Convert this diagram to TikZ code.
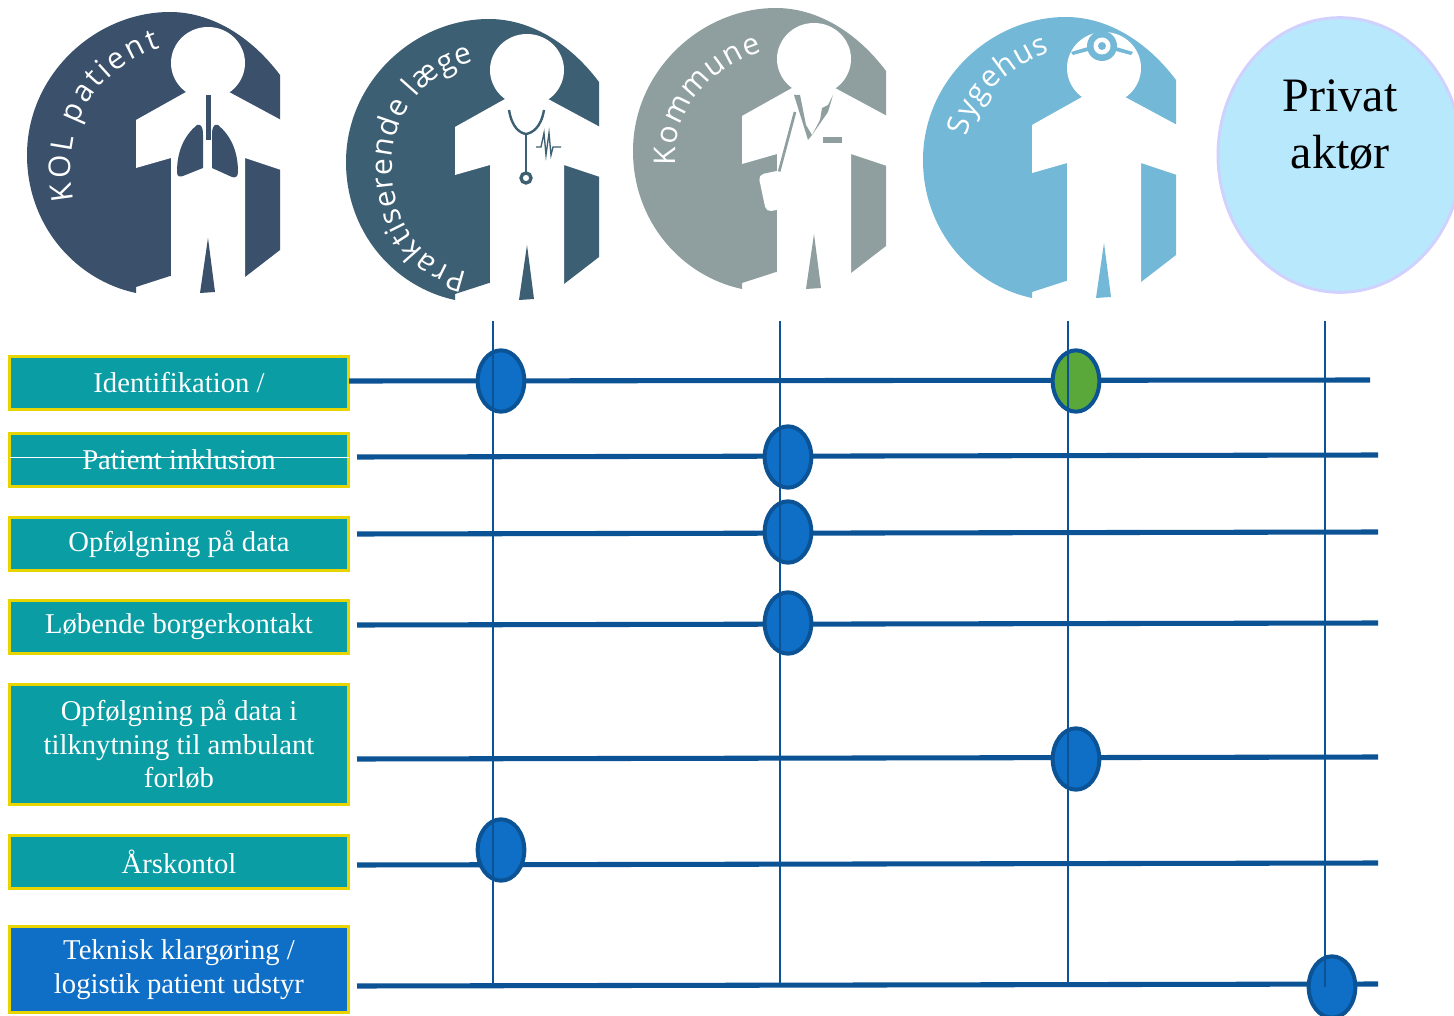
\documentclass[tikz,border=0pt]{standalone}
\usepackage{fontspec}
\setmainfont{Liberation Serif}
\newfontfamily\iconfont{Open Sans}
\usetikzlibrary{shapes.geometric,decorations.text}
\definecolor{kolc}{HTML}{3A506B}
\definecolor{laegec}{HTML}{3D5F73}
\definecolor{komc}{HTML}{8F9FA0}
\definecolor{sygc}{HTML}{74B8D7}
\definecolor{teal}{HTML}{0A9DA4}
\definecolor{yel}{HTML}{E8D500}
\definecolor{bluef}{HTML}{0F6FC6}
\definecolor{blues}{HTML}{0B5394}
\definecolor{greenf}{HTML}{5BA83A}
\tikzset{
  x=0.75pt,y=-0.75pt,
  tealbox/.style={draw=yel,line width=2.2pt,fill=teal,text=white,minimum width=254pt,align=center,inner sep=0pt,
     font=\fontsize{21.5pt}{25.2pt}\selectfont},
  bluebox/.style={tealbox,fill=bluef},
  oval/.style={ellipse,draw=blues,line width=3pt,fill=bluef,minimum width=35pt,minimum height=46pt,inner sep=0pt},
  ovalg/.style={oval,fill=greenf},
  hline/.style={draw=blues,line width=3.8pt},
  vline/.style={draw=blues,line width=2.2pt},
  curvetext/.style={decorate,decoration={text along path,text align={fit to path},
     text={|\fontsize{#1}{#1}\selectfont\iconfont\color{white}|}}},
}
% dx, dy, colour : disc with the white figure cut out
\newcommand{\personicon}[3]{%
 \begin{scope}[shift={(#1,#2)}]
  \fill[#3] (280,75) .. controls (250,35) and (210,12) .. (170,12)
    .. controls (95,12) and (27,75) .. (27,155)
    .. controls (27,225) and (75,280) .. (136,293)
    -- (136,287) -- (170,276) -- (245,277) -- (280,250) -- cycle;
  \fill[white] (208,63) circle [x radius=37,y radius=36];
  \fill[white] (186,92) -- (136,120) -- (136,168) -- (171,158) -- (171,305) -- (245,305) -- (245,158) -- (281,170) -- (281,120) -- (229,92) -- cycle;
  \fill[#3] (208,238) -- (200,293) -- (215,292) -- cycle;
 \end{scope}}
\newcommand{\curved}[3]{% size, text, path
 \path[decorate,decoration={text along path,text align={fit to path},
   text={|\fontsize{#1}{#1}\selectfont\iconfont\color{white}|#2}}] #3;}
\begin{document}
\begin{tikzpicture}
\clip (0,0) rectangle (1454,1016);
\fill[white] (0,0) rectangle (1454,1016);

% ---------- icon 1
\personicon{0}{0}{kolc}
\fill[kolc] (205.5,95) -- (210.5,95) -- (210.5,140) -- (205.5,140) -- cycle;
\fill[kolc] (197,125) .. controls (185,135) and (177,150) .. (177,172) .. controls (177,177) and (180,177) .. (183,176) -- (203,168) -- (203,135) .. controls (203,125) and (200,124) .. (197,125) -- cycle;
\fill[kolc] (218,125) .. controls (230,135) and (238,150) .. (238,172) .. controls (238,177) and (235,178) .. (232,177) -- (212,168) -- (212,135) .. controls (212,125) and (215,124) .. (218,125) -- cycle;
\curved{22.5pt}{KOL patient}{(74,200) .. controls (60,125) and (95,70) .. (160,48)}

% ---------- icon 2
\personicon{319}{7}{laegec}
\draw[laegec,line width=1.8pt] (509,110) .. controls (512,128) and (520,133) .. (526,134) .. controls (532,133) and (541,128) .. (544,110);
\draw[laegec,line width=1.8pt] (526,134) -- (526,172);
\draw[laegec,line width=2.5pt] (526,178) circle [radius=5];
\draw[laegec,line width=1pt] (536,147) -- (541,147) -- (544,133) -- (546,155) -- (549,133) -- (551,155) -- (553,147) -- (561,147);
\curved{22.5pt}{Praktiserende læge}{(468,272) .. controls (415,262) and (392,215) .. (392,165) .. controls (392,120) and (420,75) .. (474,62)}

% ---------- icon 3
\personicon{606}{-4}{komc}
\fill[komc] (794,95) -- (800,95) -- (806,125) -- (812,135) -- (820,120) -- (822,108) -- (828,105) -- (833,95) -- (828,112) -- (812,135) -- (808,140) -- cycle;
\fill[komc] (823,137) rectangle (842,143);
\draw[komc,line width=2pt] (795,112) -- (779,172);
\fill[komc] (755,165) rectangle (777,215);
\fill[white,rounded corners=4pt,rotate around={12:(774,191)}] (762,172) rectangle (786,210);
\curved{22.5pt}{Kommune}{(676,165) .. controls (672,115) and (705,70) .. (762,52)}

% ---------- icon 4
\personicon{896}{5}{sygc}
\fill[sygc] (1102,46) circle [radius=15];
\fill[white] (1102,46) circle [radius=8.5];
\fill[sygc] (1102,46) circle [radius=4];
\fill[sygc] (1071,52) -- (1088,47) -- (1088,51) -- (1073,55) -- cycle;
\fill[sygc] (1116,47) -- (1133,52) -- (1131,55) -- (1116,51) -- cycle;
\curved{22.5pt}{Sygehus}{(967,137) .. controls (975,100) and (1005,68) .. (1050,52)}

% ---------- private actor
\node[ellipse,draw=black!0!blue!18!white,line width=2.2pt,fill=cyan!28!white,minimum width=183pt,minimum height=206pt,inner sep=0pt] (privat) at (1340,155) {};
\node[font=\fontsize{36pt}{43pt}\selectfont,align=center,text=black,inner sep=0pt] (privattxt) at (1340,125) {Privat\\aktør};

% ---------- boxes
\node[tealbox,minimum height=40pt] (b1) at (179,383) {Identifikation /};
\node[tealbox,minimum height=40pt] (b2) at (179,460) {Patient inklusion};
\node[tealbox,minimum height=40pt] (b3) at (179,544) {Opfølgning på data};
\node[tealbox,minimum height=40pt] (b4) at (179,627) {Løbende borgerkontakt};
\node[tealbox,minimum height=90pt] (b5) at (179,744.5) {Opfølgning på data i\\tilknytning til ambulant\\forløb};
\node[tealbox,minimum height=40pt] (b6) at (179,862) {Årskontol};
\node[bluebox,minimum height=65pt] (b7) at (179,969.5) {Teknisk klargøring /\\logistik patient udstyr};
\coordinate (w1) at (10,457);
\coordinate (w2) at (349,457);
\draw[white,line width=0.7pt] (w1) -- (w2);

% ---------- line ends
\coordinate (s1) at (349,381); \coordinate (e1) at (1370,380);
\coordinate (s2) at (357,457); \coordinate (e2) at (1378,455);
\coordinate (s3) at (357,534); \coordinate (e3) at (1378,532);
\coordinate (s4) at (357,625); \coordinate (e4) at (1378,623);
\coordinate (s5) at (357,759); \coordinate (e5) at (1378,757);
\coordinate (s6) at (357,865); \coordinate (e6) at (1378,863);
\coordinate (s7) at (357,986); \coordinate (e7) at (1378,984);
\foreach \i in {1,...,7} {\draw[hline] (s\i) -- (e\i);}

% ---------- ovals
\node[oval] (o1) at (501,381) {};
\node[ovalg] (o2) at (1076,381) {};
\node[oval] (o3) at (788,457) {};
\node[oval] (o4) at (788,532) {};
\node[oval] (o5) at (788,623) {};
\node[oval] (o6) at (1076,759) {};
\node[oval] (o7) at (501,850) {};
\node[oval] (o8) at (1332,987) {};

% ---------- vertical lines
\coordinate (t1) at (493,321); \coordinate (u1) at (493,985);
\coordinate (t2) at (780,321); \coordinate (u2) at (780,985);
\coordinate (t3) at (1068,321); \coordinate (u3) at (1068,985);
\coordinate (t4) at (1325,321); \coordinate (u4) at (1325,987);
\foreach \i in {1,...,4} {\draw[vline] (t\i) -- (u\i);}
\end{tikzpicture}
\end{document}
